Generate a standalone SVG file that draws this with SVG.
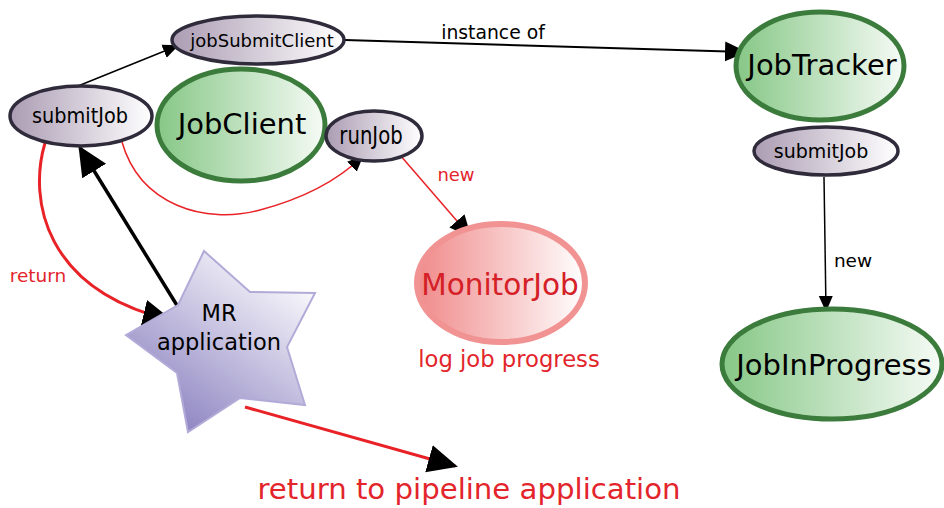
<svg xmlns="http://www.w3.org/2000/svg" width="944" height="508" viewBox="0 0 944 508">
<defs>
<linearGradient id="gPurple" x1="0" y1="0" x2="1" y2="0"><stop offset="0" stop-color="#ab9cb3"/><stop offset="1" stop-color="#ffffff"/></linearGradient>
<linearGradient id="gGreen" x1="0" y1="0" x2="1" y2="0"><stop offset="0" stop-color="#86c786"/><stop offset="1" stop-color="#f6fbf6"/></linearGradient>
<linearGradient id="gRed" x1="0" y1="0" x2="1" y2="0"><stop offset="0" stop-color="#f08a8a"/><stop offset="1" stop-color="#ffffff"/></linearGradient>
<linearGradient id="gStar" gradientUnits="userSpaceOnUse" x1="170" y1="430" x2="290" y2="260"><stop offset="0" stop-color="#8b82c0"/><stop offset="1" stop-color="#ffffff"/></linearGradient>
<marker id="aS" markerUnits="userSpaceOnUse" markerWidth="16" markerHeight="16" viewBox="0 0 16 16" refX="14" refY="8" orient="auto"><path d="M0,1 L16,8 L0,15 Z" fill="#000"/></marker>
<marker id="aM" markerUnits="userSpaceOnUse" markerWidth="22" markerHeight="22" viewBox="0 0 22 22" refX="20" refY="11" orient="auto"><path d="M0,1 L22,11 L0,21 Z" fill="#000"/></marker>
<marker id="aL" markerUnits="userSpaceOnUse" markerWidth="30" markerHeight="30" viewBox="0 0 30 30" refX="27" refY="15" orient="auto"><path d="M0,1 L30,15 L0,29 Z" fill="#000"/></marker>
</defs>
<style>
text{font-family:"DejaVu Sans","Liberation Sans",sans-serif;text-anchor:middle}
.pur{fill:url(#gPurple);stroke:#2f2b3b;stroke-width:3.5}
.grn{fill:url(#gGreen);stroke:#3b7b3b;stroke-width:5}
.red{fill:#e3242b}
.blk{stroke:#000;fill:none}
.rl{stroke:#e82226;fill:none}
</style>
<g id="connectors">
<line class="blk" x1="78" y1="86" x2="177" y2="46" stroke-width="1.5" marker-end="url(#aS)"/>
<line class="blk" x1="345" y1="40" x2="745" y2="52" stroke-width="2" marker-end="url(#aM)"/>
<path class="rl" d="M122,142 C140,205 205,225 260,210 C305,198 338,180 362,157" stroke-width="1.5" marker-end="url(#aS)"/>
<line class="rl" x1="400" y1="155" x2="470" y2="236" stroke-width="1.5" marker-end="url(#aM)"/>
<path class="rl" d="M45,143 C28,200 45,290 170,320" stroke-width="3" marker-end="url(#aL)"/>
<line class="blk" x1="178" y1="307" x2="80" y2="148" stroke-width="3.5" marker-end="url(#aL)"/>
<line class="rl" x1="245" y1="407" x2="455" y2="466" stroke-width="3" marker-end="url(#aL)"/>
<line class="blk" x1="824" y1="177" x2="826" y2="310" stroke-width="1.5" marker-end="url(#aS)"/>
<text x="493" y="39" font-size="18.8" fill="#000">instance of</text>
<text x="456" y="181" font-size="18" class="red">new</text>
<text x="38" y="282" font-size="18.5" class="red">return</text>
<text x="853" y="267" font-size="18.5" fill="#000">new</text>
</g>
<g id="jobSubmitClient">
<ellipse class="pur" cx="258" cy="40" rx="86" ry="24"/>
<text x="262" y="47" font-size="18">jobSubmitClient</text>
</g>
<g id="submitJobLeft">
<ellipse class="pur" cx="81" cy="116" rx="71" ry="30"/>
<text x="0" y="0" font-size="21" transform="translate(80,123) scale(0.92,1)">submitJob</text>
</g>
<g id="JobClient">
<ellipse class="grn" cx="241" cy="125" rx="84" ry="56"/>
<text x="242" y="134" font-size="29">JobClient</text>
</g>
<g id="runJob">
<ellipse class="pur" cx="374" cy="136" rx="48" ry="25"/>
<text x="0" y="0" font-size="24" transform="translate(371,144) scale(0.82,1)">runJob</text>
</g>
<g id="MonitorJob">
<ellipse cx="501" cy="283" rx="84" ry="59" fill="url(#gRed)" stroke="#f29393" stroke-width="6"/>
<text x="500" y="295" font-size="29.5" fill="#d42026">MonitorJob</text>
<text x="509" y="367" font-size="22.7" class="red">log job progress</text>
</g>
<g id="JobTracker">
<ellipse class="grn" cx="820" cy="66" rx="84" ry="54"/>
<text x="822" y="75" font-size="29">JobTracker</text>
</g>
<g id="submitJobRight">
<ellipse class="pur" cx="826" cy="151" rx="72" ry="24"/>
<text x="821" y="158" font-size="19">submitJob</text>
</g>
<g id="JobInProgress">
<ellipse class="grn" cx="832" cy="364" rx="110" ry="55"/>
<text x="834" y="375" font-size="29">JobInProgress</text>
</g>
<g id="MRapplication">
<polygon points="204,251 250,292 315,293 287,347 305,405 240,398 188,432 177,373 126,335 178,305" fill="url(#gStar)" stroke="#b3aad8" stroke-width="2"/>
<text x="219" y="321" font-size="22.5">MR</text>
<text x="219" y="350" font-size="22.5">application</text>
</g>
<text x="469" y="499" font-size="29.2" class="red">return to pipeline application</text>
</svg>
